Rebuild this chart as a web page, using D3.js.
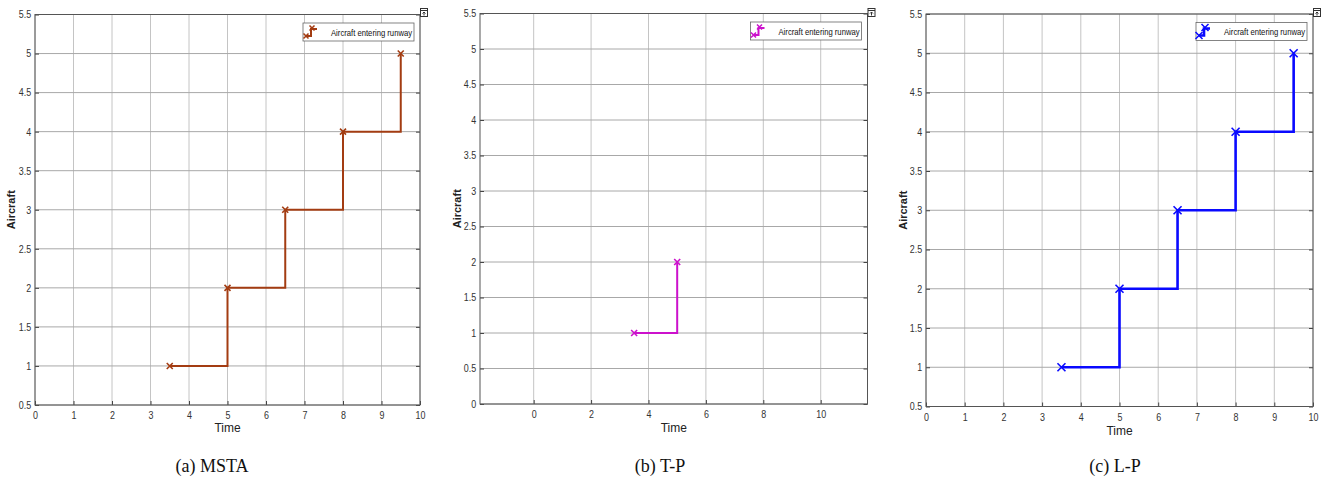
<!DOCTYPE html>
<html>
<head>
<meta charset="utf-8">
<script src="https://cdn.jsdelivr.net/npm/d3@7"></script>
<style>
  body { margin: 0; background: #fff; }
  svg text { font-family: "Liberation Sans", Arial, sans-serif; }
  .caption { font-family: "Liberation Serif", "Times New Roman", serif !important; }
</style>
</head>
<body>
<div id="chart"></div>
<script>
// Data
const mstaTime = [3.5, 5, 6.5, 8, 9.5];
const mstaAircraft = [1, 2, 3, 4, 5];
const tpTime = [3.5, 5];
const tpAircraft = [1, 2];
const lpTime = [3.5, 5, 6.5, 8, 9.5];
const lpAircraft = [1, 2, 3, 4, 5];

const xTicksA = [0, 1, 2, 3, 4, 5, 6, 7, 8, 9, 10];
const xTicksB = [0, 2, 4, 6, 8, 10];
const yTicksA = [0.5, 1, 1.5, 2, 2.5, 3, 3.5, 4, 4.5, 5, 5.5];
const yTicksB = [0, 0.5, 1, 1.5, 2, 2.5, 3, 3.5, 4, 4.5, 5, 5.5];

const legendLabel = "Aircraft entering runway";

const width = 1328;
const height = 487;

const svg = d3
  .select("#chart")
  .append("svg")
  .attr("width", width)
  .attr("height", height)
  .attr("viewBox", [0, 0, width, height]);

const panels = [
  {
    left: 35, right: 420, top: 14.5, bottom: 405,
    xDomain: [0, 10], yDomain: [0.5, 5.5],
    xTicks: xTicksA, yTicks: yTicksA,
    time: mstaTime, aircraft: mstaAircraft,
    color: "#a33c12", lineWidth: 2, markerSize: 3,
    caption: "(a) MSTA", captionX: 212,
    yLabelX: 15, timeY: 432
  },
  {
    left: 480, right: 867.5, top: 13.5, bottom: 404,
    xDomain: [-1.87, 11.63], yDomain: [0, 5.5],
    xTicks: xTicksB, yTicks: yTicksB,
    time: tpTime, aircraft: tpAircraft,
    color: "#cc11cc", lineWidth: 2, markerSize: 3,
    caption: "(b) T-P", captionX: 660,
    yLabelX: 461, timeY: 432
  },
  {
    left: 926, right: 1313, top: 14, bottom: 406.5,
    xDomain: [0, 10], yDomain: [0.5, 5.5],
    xTicks: xTicksA, yTicks: yTicksA,
    time: lpTime, aircraft: lpAircraft,
    color: "#0a0aff", lineWidth: 2.6, markerSize: 4,
    caption: "(c) L-P", captionX: 1115,
    yLabelX: 907, timeY: 435
  }
];

function drawX(g, cx, cy, s, color, w) {
  g.append("path")
    .attr("d", `M${cx - s},${cy - s}L${cx + s},${cy + s}M${cx - s},${cy + s}L${cx + s},${cy - s}`)
    .attr("stroke", color)
    .attr("stroke-width", w)
    .attr("fill", "none");
}

panels.forEach((p) => {
  const x = d3.scaleLinear().domain(p.xDomain).range([p.left, p.right]);
  const y = d3.scaleLinear().domain(p.yDomain).range([p.bottom, p.top]);
  const g = svg.append("g");

  // grid
  g.append("g")
    .selectAll("line")
    .data(p.xTicks)
    .join("line")
    .attr("x1", (d) => x(d)).attr("x2", (d) => x(d))
    .attr("y1", p.top).attr("y2", p.bottom)
    .attr("stroke", "#c4c4c4").attr("stroke-width", 1);
  g.append("g")
    .selectAll("line")
    .data(p.yTicks)
    .join("line")
    .attr("x1", p.left).attr("x2", p.right)
    .attr("y1", (d) => y(d)).attr("y2", (d) => y(d))
    .attr("stroke", "#a8a8a8").attr("stroke-width", 1);

  // axes (labels squeezed a bit like the narrow font of the original)
  g.append("g")
    .attr("transform", `translate(0,${p.bottom})`)
    .call(d3.axisBottom(x).tickValues(p.xTicks).tickSize(-4).tickPadding(7).tickFormat(d3.format("")))
    .call((a) => a.select(".domain").remove())
    .call((a) => a.selectAll(".tick line").attr("stroke", "#444"))
    .call((a) =>
      a.selectAll(".tick text")
        .attr("font-size", 10.5).attr("fill", "#333")
        .attr("transform", "scale(0.85,1)")
    );
  g.append("g")
    .attr("transform", `translate(${p.left},0)`)
    .call(d3.axisLeft(y).tickValues(p.yTicks).tickSize(-4).tickPadding(4).tickFormat(d3.format("")))
    .call((a) => a.select(".domain").remove())
    .call((a) => a.selectAll(".tick line").attr("stroke", "#444"))
    .call((a) =>
      a.selectAll(".tick text")
        .attr("font-size", 10.5).attr("fill", "#333")
        .attr("x", -4.5)
        .attr("transform", "scale(0.85,1)")
    );
  g.append("g")
    .attr("transform", `translate(${p.right},0)`)
    .call(d3.axisRight(y).tickValues(p.yTicks).tickSize(-4).tickFormat(""))
    .call((a) => a.select(".domain").remove())
    .call((a) => a.selectAll(".tick line").attr("stroke", "#444"));

  // box
  g.append("rect")
    .attr("x", p.left).attr("y", p.top)
    .attr("width", p.right - p.left).attr("height", p.bottom - p.top)
    .attr("fill", "none").attr("stroke", "#555").attr("stroke-width", 1);

  // axis labels
  g.append("text")
    .attr("transform", `translate(${p.yLabelX},${(p.top + p.bottom) / 2}) rotate(-90)`)
    .attr("text-anchor", "middle")
    .attr("font-size", 11).attr("font-weight", "bold").attr("fill", "#222")
    .text("Aircraft");
  g.append("text")
    .attr("x", (p.left + p.right) / 2).attr("y", p.timeY)
    .attr("text-anchor", "middle")
    .attr("font-size", 12).attr("fill", "#222")
    .text("Time");

  // stairs
  const pts = p.time.map((t, i) => [t, p.aircraft[i]]);
  const line = d3.line().x((d) => x(d[0])).y((d) => y(d[1])).curve(d3.curveStepAfter);
  g.append("path")
    .attr("d", line(pts))
    .attr("fill", "none")
    .attr("stroke", p.color)
    .attr("stroke-width", p.lineWidth);
  pts.forEach((d) => drawX(g, x(d[0]), y(d[1]), p.markerSize, p.color, 1.6));

  // legend
  const lw = 111, lh = 18;
  const lx = p.right - 6 - lw, ly = p.top + 8.5;
  g.append("rect")
    .attr("x", lx).attr("y", ly).attr("width", lw).attr("height", lh)
    .attr("fill", "#fff").attr("stroke", "#666").attr("stroke-width", 0.8);
  const ix = lx + 3, iy = ly + 13;
  g.append("path")
    .attr("d", `M${ix},${iy}L${ix + 5},${iy}L${ix + 5},${iy - 7}L${ix + 11},${iy - 7}`)
    .attr("fill", "none").attr("stroke", p.color).attr("stroke-width", p.lineWidth);
  drawX(g, ix, iy, p.markerSize - 0.5, p.color, 1.5);
  drawX(g, ix + 6, iy - 8, p.markerSize - 0.5, p.color, 1.5);
  g.append("text")
    .attr("transform", `translate(${lx + 28},${ly + lh / 2 + 3.5}) scale(0.8,1)`)
    .attr("font-size", 9.6).attr("fill", "#111")
    .text(legendLabel);

  // little export icon at top-right corner
  const bx = p.right + 0.5, by = 8.5;
  g.append("rect")
    .attr("x", bx).attr("y", by).attr("width", 7).attr("height", 8)
    .attr("fill", "#fff").attr("stroke", "#333").attr("stroke-width", 1);
  g.append("path")
    .attr("d", `M${bx},${by + 2}L${bx + 7},${by + 2}M${bx + 3.5},${by + 7}L${bx + 3.5},${by + 3.5}M${bx + 2},${by + 5}L${bx + 3.5},${by + 3.5}L${bx + 5},${by + 5}`)
    .attr("fill", "none").attr("stroke", "#333").attr("stroke-width", 1);

  // caption
  svg.append("text")
    .attr("class", "caption")
    .attr("x", p.captionX).attr("y", 472)
    .attr("text-anchor", "middle")
    .attr("font-size", 18).attr("fill", "#111")
    .text(p.caption);
});
</script>
</body>
</html>
